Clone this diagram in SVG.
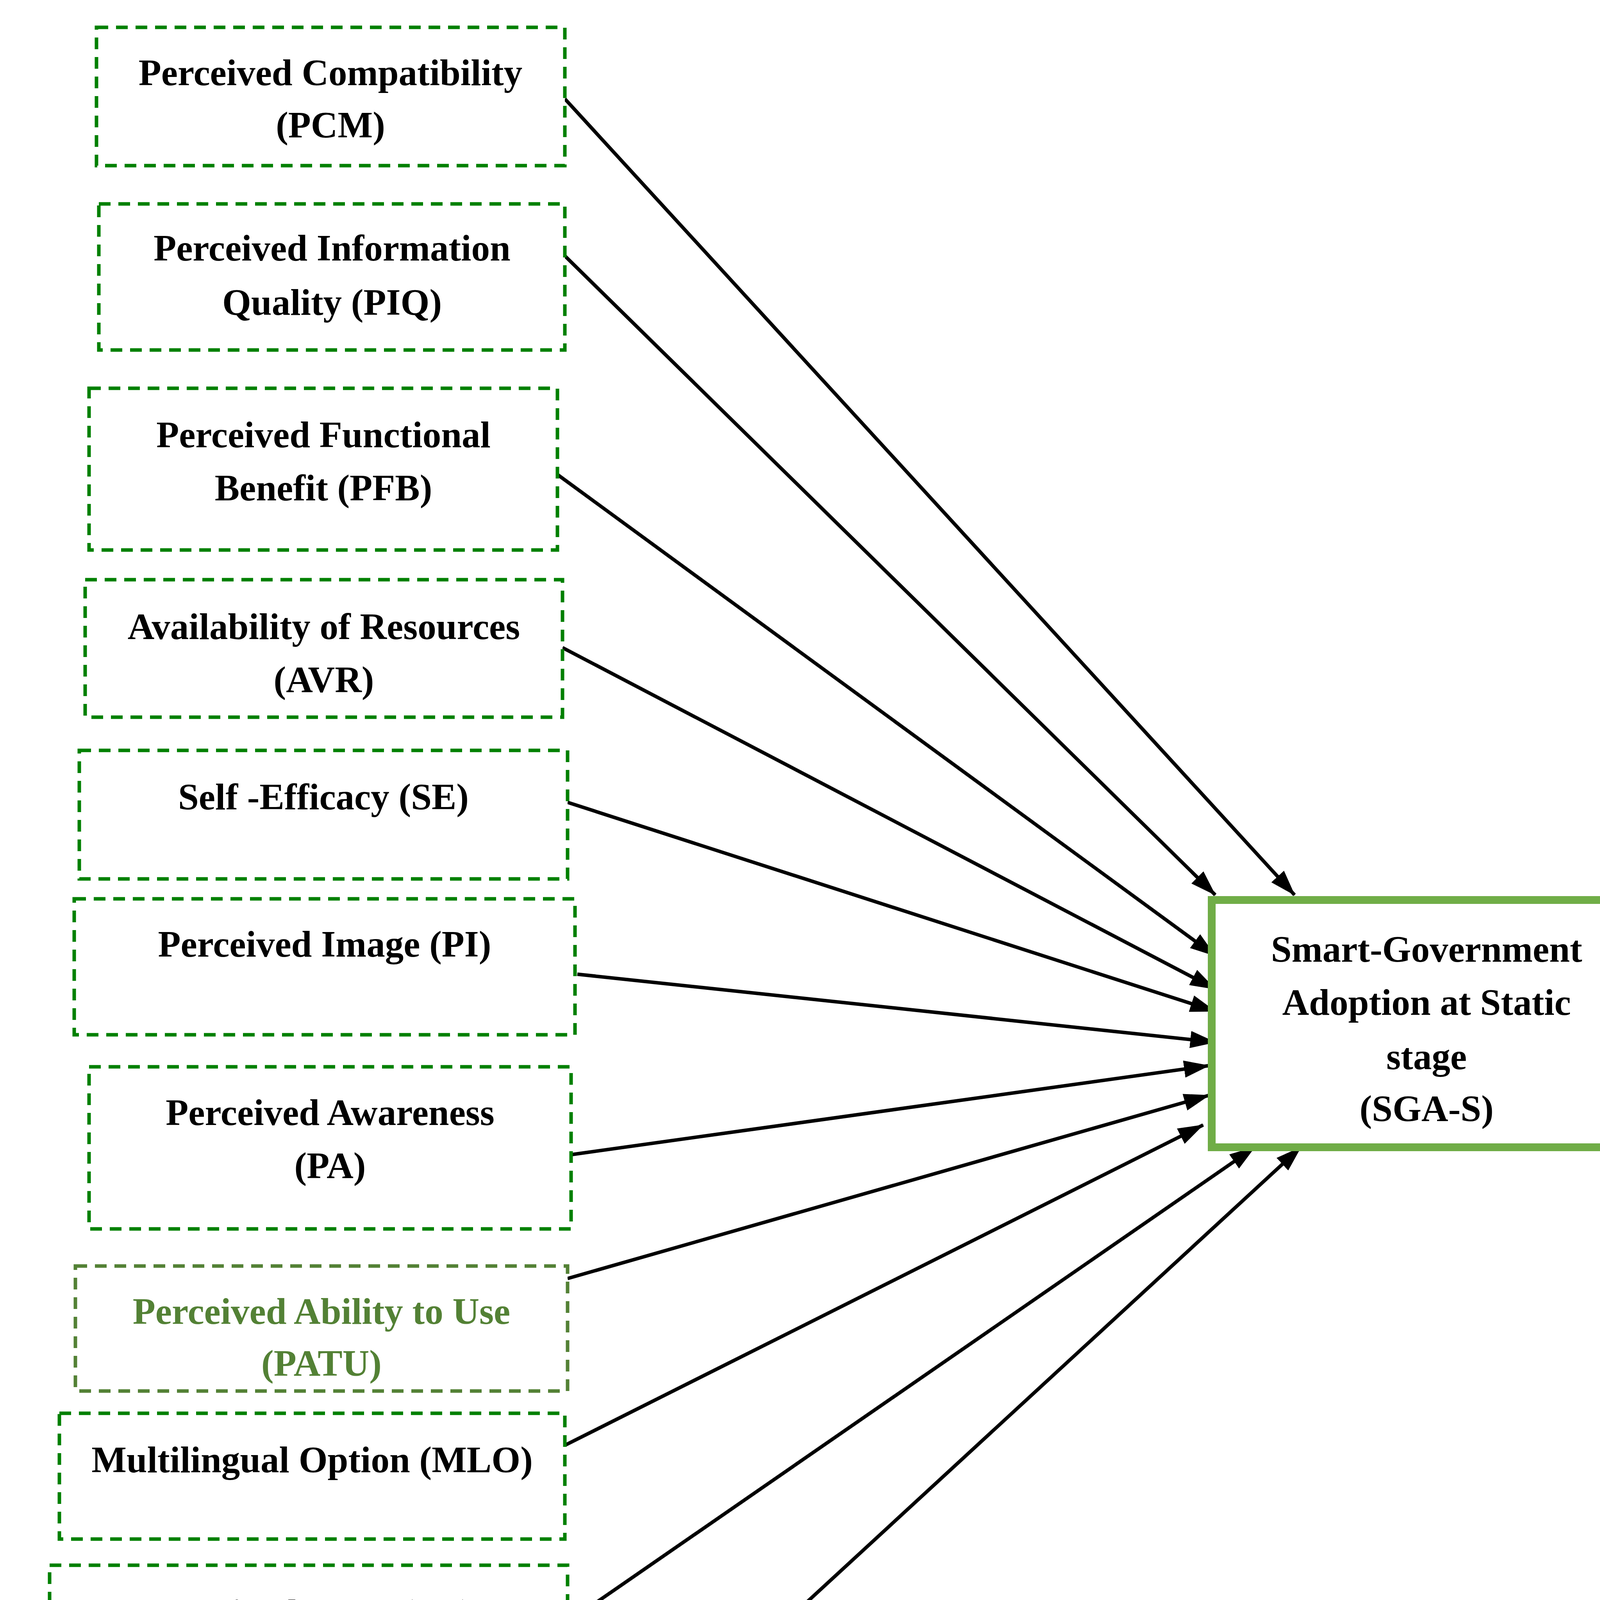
<svg xmlns="http://www.w3.org/2000/svg" width="4228" height="4935" viewBox="0 0 4228 4935">
<style>
.n{fill:#fff;stroke:#008000;stroke-width:9;stroke-dasharray:30 20}
.g{stroke:#538135}
.t{font-family:"Liberation Serif",serif;font-weight:bold;font-size:95px;text-anchor:middle;fill:#000}
.tg{fill:#538135}
.c line{stroke:#000;stroke-width:9;marker-end:url(#a)}
.c line.k{stroke-width:16;marker-end:url(#b)}
</style>
<defs>
<marker id="a" markerUnits="userSpaceOnUse" markerWidth="70" markerHeight="50" refX="64" refY="22" orient="auto" viewBox="0 0 70 44"><path d="M0,0 L66,22 L0,44 Z" fill="#000"/></marker>
<marker id="b" markerUnits="userSpaceOnUse" markerWidth="60" markerHeight="50" refX="56" refY="22" orient="auto" viewBox="0 0 60 44"><path d="M0,0 L58,22 L0,44 Z" fill="#000"/></marker>
</defs>
<rect width="4228" height="4935" fill="#fff"/>
<g class="c">
<line x1="1446" y1="253" x2="3314" y2="2291"/>
<line x1="1446" y1="655" x2="3111" y2="2291"/>
<line x1="1415" y1="1206" x2="3111" y2="2447"/>
<line x1="1440" y1="1658" x2="3111" y2="2532"/>
<line x1="1453" y1="2054" x2="3111" y2="2589"/>
<line x1="1478" y1="2494" x2="3111" y2="2668"/>
<line x1="1440" y1="2959" x2="3095" y2="2728"/>
<line x1="1453" y1="3273" x2="3095" y2="2804"/>
<line x1="1446" y1="3700" x2="3080" y2="2880"/>
<line x1="1459" y1="4149" x2="3212" y2="2937"/>
<line x1="1611" y1="4520" x2="3330" y2="2937"/>
<line class="k" x1="665" y1="4522" x2="665" y2="4334"/>
<line class="k" x1="1260" y1="4539" x2="1260" y2="4334"/>
</g>
<g id="PCM"><rect class="n" x="247" y="70" width="1199" height="354"/><text class="t" x="846" y="218">Perceived Compatibility</text><text class="t" x="846" y="352">(PCM)</text></g>
<g id="PIQ"><rect class="n" x="253" y="522" width="1193" height="374"/><text class="t" x="850" y="667">Perceived Information</text><text class="t" x="850" y="806">Quality (PIQ)</text></g>
<g id="PFB"><rect class="n" x="228" y="994" width="1199" height="414"/><text class="t" x="828" y="1145">Perceived Functional</text><text class="t" x="828" y="1281">Benefit (PFB)</text></g>
<g id="AVR"><rect class="n" x="218" y="1484" width="1222" height="352"/><text class="t" x="829" y="1636">Availability of Resources</text><text class="t" x="829" y="1772">(AVR)</text></g>
<g id="SE"><rect class="n" x="203" y="1921" width="1250" height="329"/><text class="t" x="828" y="2072">Self -Efficacy (SE)</text></g>
<g id="PI"><rect class="n" x="190" y="2301" width="1282" height="348"/><text class="t" x="831" y="2449">Perceived Image (PI)</text></g>
<g id="PA"><rect class="n" x="228" y="2731" width="1234" height="415"/><text class="t" x="845" y="2880">Perceived Awareness</text><text class="t" x="845" y="3016">(PA)</text></g>
<g id="PATU"><rect class="n g" x="193" y="3241" width="1260" height="320"/><text class="t tg" x="823" y="3389">Perceived Ability to Use</text><text class="t tg" x="823" y="3522">(PATU)</text></g>
<g id="MLO"><rect class="n" x="152" y="3618" width="1294" height="322"/><text class="t" x="799" y="3769">Multilingual Option (MLO)</text></g>
<g id="PT"><rect class="n" x="127" y="4007" width="1326" height="323"/><text class="t" x="790" y="4161">Perceived Trust (PT)</text></g>
<g id="PS"><rect class="n" x="63" y="4545" width="706" height="342"/><text class="t" x="416" y="4693">Perceived</text><text class="t" x="416" y="4829">Security (PS)</text></g>
<g id="PU"><rect class="n" x="861" y="4545" width="823" height="348"/><text class="t" x="1272" y="4693">Perceived Un-</text><text class="t" x="1272" y="4829">certainty (PU)</text></g>
<g id="SGA"><rect x="3102" y="2304" width="1101" height="633" fill="#fff" stroke="#70AD47" stroke-width="20"/><text class="t" x="3652" y="2462">Smart-Government</text><text class="t" x="3652" y="2598">Adoption at Static</text><text class="t" x="3652" y="2737">stage</text><text class="t" x="3652" y="2870">(SGA-S)</text></g>
</svg>
